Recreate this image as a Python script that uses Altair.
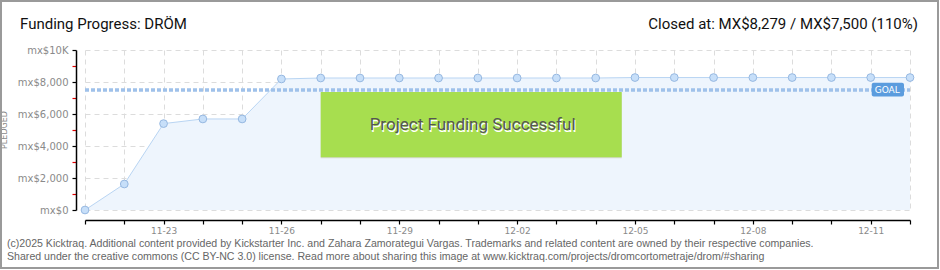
import altair as alt
import pandas as pd

dates = ["11-21", "11-22", "11-23", "11-24", "11-25", "11-26", "11-27", "11-28",
         "11-29", "11-30", "12-01", "12-02", "12-03", "12-04", "12-05", "12-06",
         "12-07", "12-08", "12-09", "12-10", "12-11", "12-12"]
pledged = [0, 1625, 5400, 5690, 5690, 8190, 8250, 8250, 8250, 8250, 8250,
           8250, 8250, 8250, 8279, 8279, 8279, 8279, 8279, 8279, 8279, 8279]
label_dates = ["11-23", "11-26", "11-29", "12-02", "12-05", "12-08", "12-11"]
goal = 7500
y_ticks = list(range(0, 10001, 1000))

title_left = "Funding Progress: DRÖM"
title_right = "Closed at:  MX$8,279 /  MX$7,500 (110%)"
footer1 = ("(c)2025 Kicktraq. Additional content provided by Kickstarter Inc. and Zahara Zamorategui Vargas. "
           "Trademarks and related content are owned by their respective companies.")
footer2 = ("Shared under the creative commons (CC BY-NC 3.0) license. Read more about sharing this image at "
           "www.kicktraq.com/projects/dromcortometraje/drom/#sharing")

df = pd.DataFrame({"date": dates, "pledged": pledged})

AXIS_FONT = "DejaVu Sans"
HEAD_FONT = "Roboto"

label_list = "[" + ",".join("'%s'" % d for d in label_dates) + "]"

x_scale = alt.Scale(type="point", padding=0, domain=dates)
x_axis = alt.Axis(
    title=None, labelAngle=0, offset=10, domainColor="#000", domainWidth=1.5,
    tickColor="#000", tickSize=4, tickWidth=1.2, labelColor="#8a8a8a",
    labelFont=AXIS_FONT, labelFontSize=9, labelPadding=2, labelOverlap=False,
    labelExpr="indexof(%s, datum.value) >= 0 ? datum.value : ''" % label_list,
    grid=True, gridColor="#dcdcdc", gridDash=[5, 4], gridWidth=1,
)
y_scale = alt.Scale(domain=[0, 10000], nice=False)
y_axis = alt.Axis(
    title=None, values=y_ticks, offset=9, domainColor="#000", domainWidth=1.5,
    tickSize=4, tickWidth=1.2, labelOverlap=False, labelFlush=False,
    tickColor={"condition": {"test": "datum.value % 2000 !== 0", "value": "#e00000"}, "value": "#000"},
    labelExpr="datum.value % 2000 !== 0 ? '' : (datum.value >= 10000 ? 'mx$10K' : 'mx$' + format(datum.value, ','))",
    labelColor="#8a8a8a", labelFont=AXIS_FONT, labelFontSize=10, labelPadding=4,
    grid=True, gridColor="#dcdcdc", gridDash=[5, 4], gridWidth=1,
    gridOpacity={"condition": {"test": "datum.value % 2000 !== 0", "value": 0}, "value": 1},
)

def X(field):
    return alt.X(field + ":O", sort=dates, scale=x_scale, axis=x_axis)

def Y(field):
    return alt.Y(field + ":Q", scale=y_scale, axis=y_axis)

base = alt.Chart(df)

area = base.mark_area(color="#eef5fd", opacity=1, line={"color": "#b9d5f3", "strokeWidth": 1}).encode(
    x=X("date"), y=Y("pledged")
)

goal_df = pd.DataFrame({"x0": [dates[0]], "x1": [dates[-1]], "goal": [goal]})
goal_line = alt.Chart(goal_df).mark_rule(color="#9fc1ea", strokeWidth=3.5, strokeDash=[4, 2]).encode(
    x=X("x0"), x2="x1", y=Y("goal")
)

box_df = pd.DataFrame({"x0": ["11-27"], "x1": ["12-04"], "y0": [3300], "y1": [7375],
                       "xm": ["11-30"], "ym": [5300], "t": ["Project Funding Successful"]})
shadow = alt.Chart(box_df).mark_rect(color="#d6d9cf", x2Offset=26, yOffset=1, y2Offset=1).encode(
    x=X("x0"), x2="x1", y=Y("y0"), y2="y1"
)
green = alt.Chart(box_df).mark_rect(color="#a7de4f", x2Offset=26).encode(
    x=X("x0"), x2="x1", y=Y("y0"), y2="y1"
)
green_txt_sh = alt.Chart(box_df).mark_text(font=HEAD_FONT, fontSize=17, color="#ffffff", dx=35, dy=1.5, align="center", baseline="middle").encode(
    x=X("xm"), y=Y("ym"), text="t"
)
green_txt = alt.Chart(box_df).mark_text(font=HEAD_FONT, fontSize=17, color="#555555", dx=34, align="center", baseline="middle").encode(
    x=X("xm"), y=Y("ym"), text="t"
)

points = base.mark_point(filled=True, shape="circle", size=60, fill="#c7dff9", stroke="#96b8e1", strokeWidth=1, opacity=1).encode(
    x=X("date"), y=Y("pledged")
)

goal_box_df = pd.DataFrame({"x0": ["12-11"], "x1": ["12-12"], "y0": [7100], "y1": [7950], "t": ["GOAL"], "ym": [7520]})
goal_box = alt.Chart(goal_box_df).mark_rect(color="#5b9cde", cornerRadius=2, xOffset=1, x2Offset=-6).encode(
    x=X("x0"), x2="x1", y=Y("y0"), y2="y1"
)
goal_txt = alt.Chart(goal_box_df).mark_text(font=AXIS_FONT, fontSize=9, color="#ffffff", dx=4, align="left", baseline="middle").encode(
    x=X("x0"), y=Y("ym"), text="t"
)

watermark = alt.Chart(pd.DataFrame({"t": ["ks"]})).mark_text(
    font="DejaVu Serif", fontSize=62, fontStyle="italic", color="#e5eef9", align="center", baseline="middle"
).encode(x=alt.value(785), y=alt.value(120), text="t")

def txt(s, x, y, size, color, font, align="left", **kw):
    return alt.Chart(pd.DataFrame({"t": [s]})).mark_text(
        font=font, fontSize=size, color=color, align=align, baseline="alphabetic", **kw
    ).encode(x=alt.value(x), y=alt.value(y), text="t")

head_l = txt(title_left, -65, -21, 15, "#111111", HEAD_FONT)
head_r = txt(title_right, 833, -21, 15, "#111111", HEAD_FONT, align="right")
foot1 = txt(footer1, -78, 197, 10.6, "#666666", "Liberation Sans")
foot2 = txt(footer2, -78, 210, 10.6, "#666666", "Liberation Sans")
pledged_lbl = alt.Chart(pd.DataFrame({"t": ["PLEDGED"]})).mark_text(
    font=AXIS_FONT, fontSize=8, color="#8a8a8a", angle=270, align="center", baseline="middle"
).encode(x=alt.value(-80), y=alt.value(80), text="t")

border = alt.Chart(pd.DataFrame({"t": [1]})).mark_rect(fill=None, stroke="#9a9a9a", strokeWidth=2).encode(
    x=alt.value(-84), x2=alt.value(853), y=alt.value(-49), y2=alt.value(218)
)

chart = alt.layer(
    watermark, area, goal_line, shadow, green, green_txt_sh, green_txt, points, goal_box, goal_txt,
    head_l, head_r, foot1, foot2, pledged_lbl, border
).properties(
    width=825, height=160,
    autosize=alt.AutoSizeParams(type="none"),
    padding={"left": 85, "top": 50, "right": 30, "bottom": 60},
    background="#ffffff",
).configure_view(stroke=None)

chart.save("out.html", embed_options={"renderer": "svg", "actions": False})
